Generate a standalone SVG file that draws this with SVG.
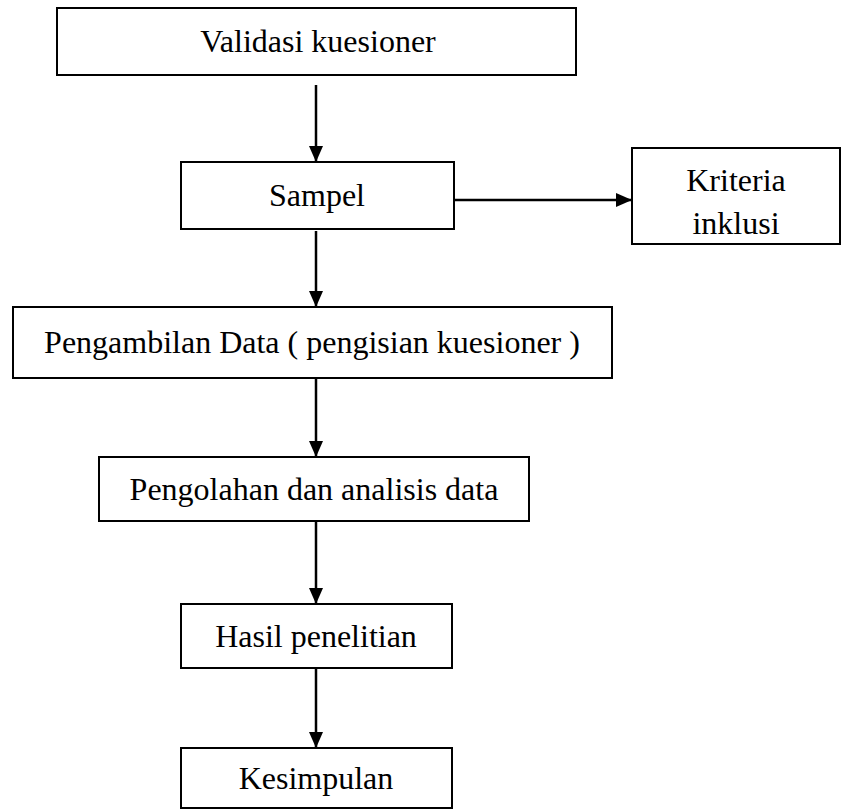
<svg xmlns="http://www.w3.org/2000/svg" width="843" height="812" viewBox="0 0 843 812">
<style>
.box{fill:#fff;stroke:#000;stroke-width:2}
.t{font-family:"Liberation Serif","Times New Roman",serif;font-size:32px;fill:#000;text-anchor:middle}
.c{stroke:#000;stroke-width:2.5;fill:none;marker-end:url(#ah)}
</style>
<defs>
<marker id="ah" markerWidth="16" markerHeight="14" refX="16" refY="7" orient="auto" markerUnits="userSpaceOnUse" viewBox="0 0 16 14">
<path d="M0,0 L16,7 L0,14 Z" fill="#000"/>
</marker>
</defs>
<rect width="843" height="812" fill="#fff"/>
<g id="connectors">
<line class="c" x1="316" y1="85" x2="316" y2="162"/>
<line class="c" x1="455" y1="200" x2="632" y2="200"/>
<line class="c" x1="316" y1="231" x2="316" y2="307"/>
<line class="c" x1="316" y1="379" x2="316" y2="457"/>
<line class="c" x1="316" y1="522" x2="316" y2="604"/>
<line class="c" x1="316" y1="669" x2="316" y2="748"/>
</g>
<g id="validasi"><rect class="box" x="57" y="8" width="519" height="67"/><text class="t" x="318" y="52">Validasi kuesioner</text></g>
<g id="sampel"><rect class="box" x="181" y="162" width="273" height="67"/><text class="t" x="317" y="206">Sampel</text></g>
<g id="kriteria"><rect class="box" x="632" y="148" width="208" height="96"/><text class="t" x="736" y="191">Kriteria</text><text class="t" x="736" y="234">inklusi</text></g>
<g id="pengambilan"><rect class="box" x="13" y="307" width="599" height="71"/><text class="t" x="312" y="353">Pengambilan Data ( pengisian kuesioner )</text></g>
<g id="pengolahan"><rect class="box" x="99" y="457" width="430" height="64"/><text class="t" x="314" y="500">Pengolahan dan analisis data</text></g>
<g id="hasil"><rect class="box" x="181" y="604" width="271" height="64"/><text class="t" x="316" y="647">Hasil penelitian</text></g>
<g id="kesimpulan"><rect class="box" x="181" y="748" width="271" height="60"/><text class="t" x="316" y="789">Kesimpulan</text></g>
</svg>
